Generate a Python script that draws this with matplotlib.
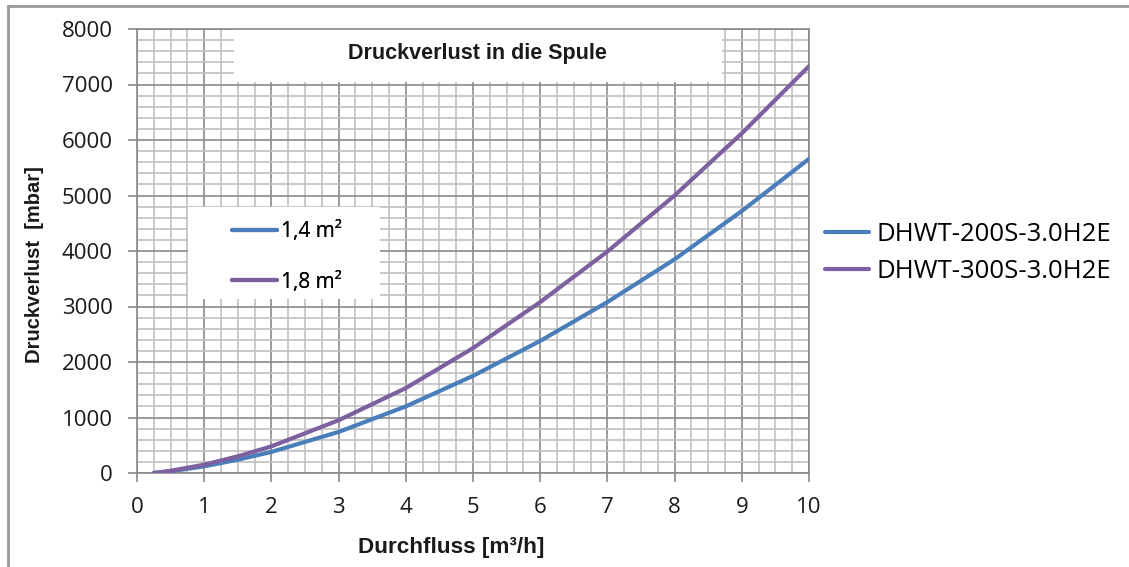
import matplotlib
matplotlib.use("Agg")
import matplotlib.pyplot as plt
from matplotlib.lines import Line2D
from matplotlib.patches import Rectangle
from matplotlib.ticker import MultipleLocator

# Durchfluss [m3/h]
flow = [0.25, 0.5, 1, 1.5, 2, 3, 4, 5, 6, 7, 8, 9, 10]
# Druckverlust [mbar]
dhwt_200 = [0, 30, 120, 240, 380, 740, 1200, 1750, 2380, 3080, 3850, 4720, 5660]
dhwt_300 = [0, 40, 150, 300, 480, 950, 1530, 2250, 3080, 3990, 5000, 6120, 7330]

series_names = ["DHWT-200S-3.0H2E", "DHWT-300S-3.0H2E"]
area_labels = ["1,4 m²", "1,8 m²"]
x_ticks = list(range(0, 11))
y_ticks = list(range(0, 8001, 1000))

BLUE = "#4a7ebb"
PURPLE = "#7d60a0"
W, H = 1129, 567
AX_L, AX_R, AX_T, AX_B = 137, 809, 29, 473

fig = plt.figure(figsize=(W / 100, H / 100), dpi=100)
fig.patch.set_facecolor("white")

ax = fig.add_axes([AX_L / W, 1 - AX_B / H, (AX_R - AX_L) / W, (AX_B - AX_T) / H])

ax.set_xlim(0, 10)
ax.set_ylim(0, 8000)
ax.set_xticks(x_ticks)
ax.set_yticks(y_ticks)
ax.xaxis.set_minor_locator(MultipleLocator(0.25))
ax.yaxis.set_minor_locator(MultipleLocator(200))

ax.set_axisbelow(True)
ax.grid(which="minor", color="#c0c0c0", linewidth=1.2)
ax.grid(which="major", color="#8a8a8a", linewidth=1.2)

for s in ax.spines.values():
    s.set_color("#8a8a8a")
    s.set_linewidth(1.2)

ax.tick_params(which="major", direction="out", length=6.5, width=1.2, color="#8a8a8a",
               labelsize=16, labelcolor="#1a1a1a")
ax.tick_params(axis="x", pad=11)
ax.tick_params(axis="y", pad=11)
ax.tick_params(which="minor", length=0)
for lbl in ax.get_xticklabels() + ax.get_yticklabels():
    lbl.set_fontfamily("Open Sans")

# white boxes on top of the grid
ax.add_patch(Rectangle((1.45, 7050), 8.70 - 1.45, 950, facecolor="white",
                       edgecolor="none", zorder=1))
ax.add_patch(Rectangle((0.76, 3140), 3.62 - 0.76, 4790 - 3140, facecolor="white",
                       edgecolor="none", zorder=1))

l1, = ax.plot(flow, dhwt_200, color=BLUE, linewidth=3, solid_capstyle="round", zorder=3)
l2, = ax.plot(flow, dhwt_300, color=PURPLE, linewidth=3, solid_capstyle="round", zorder=3)

# inner legend
leg_in = ax.legend([l1, l2], area_labels, loc="center left",
                   bbox_to_anchor=((232 - AX_L) / (AX_R - AX_L), (AX_B - 257) / (AX_B - AX_T)),
                   frameon=False, borderpad=0, borderaxespad=0,
                   handlelength=2.15, handletextpad=0.2, labelspacing=1.4,
                   prop={"family": "Open Sans", "size": 15})
ax.add_artist(leg_in)

# outer legend
fig.legend([l1, l2], series_names, loc="center left",
           bbox_to_anchor=(825 / W, 1 - 253 / H), frameon=False,
           borderpad=0, borderaxespad=0,
           handlelength=1.7, handletextpad=0.3, labelspacing=0.5,
           prop={"family": "Open Sans", "size": 18.5})

fig.text(477 / W, 1 - 53 / H, "Druckverlust in die Spule", ha="center", va="center",
         fontsize=15.5, fontweight="bold", family="Liberation Sans", color="#1a1a1a")
fig.text(451 / W, 1 - 548 / H, "Durchfluss [m³/h]", ha="center", va="center",
         fontsize=16.2, fontweight="bold", family="Liberation Sans", color="#1a1a1a")
fig.text(35 / W, 1 - 265 / H, "Druckverlust  [mbar]", ha="center", va="center",
         rotation=90, fontsize=14.5, fontweight="bold", family="Liberation Sans", color="#1a1a1a")

# outer frame (top and left edges visible)
fig.add_artist(Line2D([7.5 / W, 1.0], [1 - 5.5 / H, 1 - 5.5 / H], transform=fig.transFigure,
                      color="#999999", linewidth=2))
fig.add_artist(Line2D([7.5 / W, 7.5 / W], [0.0, 1 - 5.5 / H], transform=fig.transFigure,
                      color="#999999", linewidth=2))

fig.savefig("out.png", dpi=100, facecolor="white")
